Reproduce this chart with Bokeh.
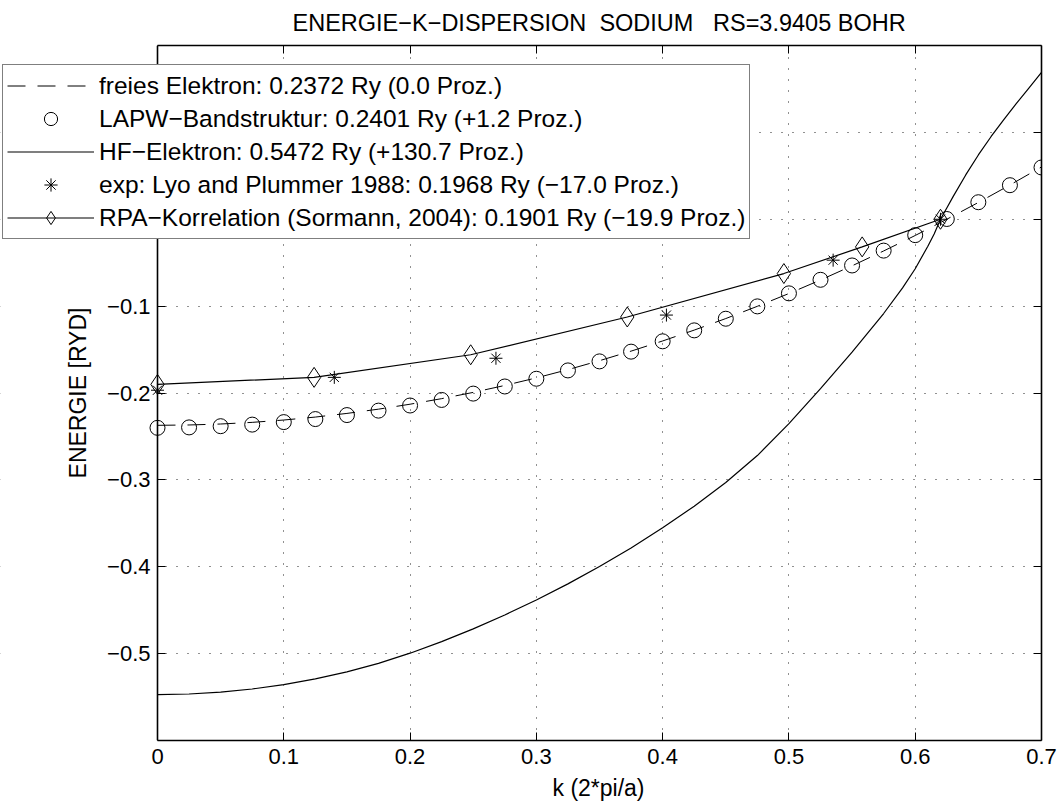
from bokeh.plotting import figure
from bokeh.models import (Range1d, FixedTicker, LinearAxis, Legend, LegendItem, ColumnDataSource,
                          BoxAnnotation, Label, Title)
from bokeh.embed import file_html
from bokeh.resources import INLINE
import math

# ---------------- data ----------------
k_free = [0.0, 0.025, 0.05, 0.075, 0.1, 0.125, 0.15, 0.175, 0.2, 0.225, 0.25, 0.275, 0.3, 0.325,
          0.35, 0.375, 0.4, 0.425, 0.45, 0.475, 0.5, 0.525, 0.55, 0.575, 0.6, 0.625, 0.65, 0.675, 0.7]
e_free = [-0.2372, -0.2368, -0.2357, -0.2338, -0.2311, -0.2277, -0.2235, -0.2186, -0.2129, -0.2065,
          -0.1993, -0.1913, -0.1826, -0.1731, -0.1628, -0.1518, -0.1401, -0.1276, -0.1143, -0.1002,
          -0.0855, -0.0699, -0.0536, -0.0365, -0.0187, 0.0000, 0.0193, 0.0394, 0.0602]

k_lapw = [0.0, 0.025, 0.05, 0.075, 0.1, 0.125, 0.15, 0.175, 0.2, 0.225, 0.25, 0.275, 0.3, 0.325,
          0.35, 0.375, 0.4, 0.425, 0.45, 0.475, 0.5, 0.525, 0.55, 0.575, 0.6, 0.625, 0.65, 0.675, 0.7]
e_lapw = [-0.2401, -0.2396, -0.2382, -0.2364, -0.2335, -0.2300, -0.2254, -0.2203, -0.2144, -0.2080,
          -0.2007, -0.1925, -0.1836, -0.1740, -0.1636, -0.1524, -0.1405, -0.1279, -0.1145, -0.1003,
          -0.0853, -0.0697, -0.0532, -0.0361, -0.0183, 0.0003, 0.0196, 0.0392, 0.0596]

k_hf = [0.0, 0.025, 0.05, 0.075, 0.1, 0.125, 0.15, 0.175, 0.2, 0.225, 0.25, 0.275, 0.3, 0.325,
        0.35, 0.375, 0.4, 0.425, 0.45, 0.475, 0.5, 0.525, 0.55, 0.575, 0.59, 0.6, 0.61, 0.615,
        0.62, 0.625, 0.63, 0.64, 0.65, 0.66, 0.67, 0.68, 0.69, 0.7]
e_hf = [-0.5472, -0.5465, -0.5443, -0.5407, -0.5356, -0.5290, -0.5210, -0.5112, -0.4995, -0.4862,
        -0.4715, -0.4555, -0.4383, -0.4197, -0.3998, -0.3783, -0.3552, -0.3303, -0.3030, -0.2720,
        -0.2352, -0.1950, -0.1530, -0.1085, -0.0790, -0.0570, -0.0310, -0.0170,
        0.0000, 0.0130, 0.0260, 0.0510, 0.0740, 0.0950, 0.1145, 0.1330, 0.1510, 0.1690]

k_exp = [0.0, 0.140, 0.268, 0.403, 0.535, 0.620]
e_exp = [-0.1968, -0.1820, -0.1600, -0.1103, -0.0471, 0.0000]

k_rpa = [0.0, 0.124, 0.248, 0.372, 0.496, 0.558, 0.620]
e_rpa = [-0.1901, -0.1820, -0.1560, -0.1125, -0.0625, -0.0318, 0.0000]

x_ticks = [0.0, 0.1, 0.2, 0.3, 0.4, 0.5, 0.6, 0.7]
x_tick_labels = ["0", "0.1", "0.2", "0.3", "0.4", "0.5", "0.6", "0.7"]
y_ticks = [-0.5, -0.4, -0.3, -0.2, -0.1, 0.0, 0.1]
y_tick_labels = ["\u22120.5", "\u22120.4", "\u22120.3", "\u22120.2", "\u22120.1", "", ""]

legend_labels = [
    "freies Elektron: 0.2372 Ry (0.0 Proz.)",
    "LAPW\u2212Bandstruktur: 0.2401 Ry (+1.2 Proz.)",
    "HF\u2212Elektron: 0.5472 Ry (+130.7 Proz.)",
    "exp: Lyo and Plummer 1988: 0.1968 Ry (\u221217.0 Proz.)",
    "RPA\u2212Korrelation (Sormann, 2004): 0.1901 Ry (\u221219.9 Proz.)",
]
title_text = "ENERGIE\u2212K\u2212DISPERSION \u00a0SODIUM \u00a0\u00a0RS=3.9405 BOHR"
x_label = "k (2*pi/a)"
y_label = "ENERGIE [RYD]"

FONT = "Liberation Sans"

# frame spans the whole left side so that the legend (which sits left of k=0) is not clipped
W, H = 1062, 806
FRAME_RIGHT = 1041          # canvas px of k = 0.7
AXIS_X = 157                # canvas px of k = 0
X_MIN, X_MAX = 0.0, 0.7
x_start = X_MIN - (X_MAX - X_MIN) * AXIS_X / (FRAME_RIGHT - AXIS_X)

p = figure(width=W, height=H,
           x_range=Range1d(x_start, X_MAX), y_range=Range1d(-0.6, 0.2),
           output_backend="svg", toolbar_location=None,
           min_border_left=0, min_border_right=W - FRAME_RIGHT,
           min_border_top=45, min_border_bottom=H - 741,
           title=title_text)

p.background_fill_color = "white"
p.border_fill_color = "white"
p.outline_line_color = None

p.title.align = "left"
p.title.offset = 292
p.title.vertical_align = "top"
p.title.standoff = 16
p.title.text_font = FONT
p.title.text_font_size = "23.5px"
p.title.text_font_style = "normal"
p.title.text_color = "black"

# grid
for g in (p.xgrid[0], p.ygrid[0]):
    g.grid_line_color = "#222222"
    g.grid_line_dash = "1 10"
    g.grid_line_width = 1
p.xgrid[0].ticker = FixedTicker(ticks=x_ticks)
p.ygrid[0].ticker = FixedTicker(ticks=y_ticks)

# white mask left of k = 0 (hides grid lines there)
p.add_layout(BoxAnnotation(right=X_MIN, fill_color="white", fill_alpha=1.0,
                           line_color=None, level="underlay"))


def style_axis(ax, ticks, labels, show_labels):
    ax.ticker = FixedTicker(ticks=ticks)
    ax.major_label_overrides = {t: l for t, l in zip(ticks, labels)}
    ax.major_tick_in = 8
    ax.major_tick_out = 0
    ax.minor_tick_line_color = None
    ax.axis_line_color = "black"
    ax.axis_line_width = 1.6
    ax.major_tick_line_color = "black"
    ax.major_tick_line_width = 1
    if show_labels:
        ax.major_label_text_font = FONT
        ax.major_label_text_font_size = "22px"
        ax.major_label_text_color = "black"
    else:
        ax.major_label_text_font_size = "0px"
        ax.major_label_standoff = 0


xb = p.xaxis[0]
style_axis(xb, x_ticks, x_tick_labels, True)
xb.bounds = (X_MIN, X_MAX)
xb.major_label_standoff = 8

yl = p.yaxis[0]
style_axis(yl, y_ticks, y_tick_labels, True)
yl.fixed_location = X_MIN
yl.bounds = (-0.6, 0.2)
yl.major_label_standoff = 7

xt = LinearAxis()
style_axis(xt, x_ticks, [""] * len(x_ticks), False)
xt.bounds = (X_MIN, X_MAX)
p.add_layout(xt, "above")
yr = LinearAxis()
style_axis(yr, y_ticks, [""] * len(y_ticks), False)
p.add_layout(yr, "right")

# axis titles
xlab = Title(text=x_label, align="left", offset=552, vertical_align="bottom", standoff=12,
             text_font=FONT, text_font_size="23px", text_font_style="normal", text_color="black")
p.add_layout(xlab, "below")
p.add_layout(Label(x=77, x_units="screen", y=-0.2, y_units="data", text=y_label,
                   angle=math.pi / 2, text_align="center", text_baseline="middle",
                   text_font=FONT, text_font_size="23px", text_color="black"))

# ---------------- glyphs ----------------
src_free = ColumnDataSource(dict(k=k_free, e=e_free))
src_lapw = ColumnDataSource(dict(k=k_lapw, e=e_lapw))
src_hf = ColumnDataSource(dict(k=k_hf, e=e_hf))
src_exp = ColumnDataSource(dict(k=k_exp, e=e_exp))
src_rpa = ColumnDataSource(dict(k=k_rpa, e=e_rpa))

r_free = p.line("k", "e", source=src_free, line_color="black", line_width=1, line_dash="18 12")
r_lapw = p.scatter("k", "e", source=src_lapw, marker="circle", size=15,
                   fill_color=None, line_color="black", line_width=1)
r_hf = p.line("k", "e", source=src_hf, line_color="black", line_width=1.2)
r_exp = p.scatter("k", "e", source=src_exp, marker="asterisk", size=13,
                  line_color="black", line_width=1)
r_rpa_l = p.line("k", "e", source=src_rpa, line_color="black", line_width=1.2)
r_rpa_m = p.scatter("k", "e", source=src_rpa, marker="diamond", size=20,
                    fill_color=None, line_color="black", line_width=1)

items = [
    LegendItem(label=legend_labels[0], renderers=[r_free]),
    LegendItem(label=legend_labels[1], renderers=[r_lapw]),
    LegendItem(label=legend_labels[2], renderers=[r_hf]),
    LegendItem(label=legend_labels[3], renderers=[r_exp]),
    LegendItem(label=legend_labels[4], renderers=[r_rpa_l, r_rpa_m]),
]
legend = Legend(items=items, location=(2, 501))
legend.padding = 4
legend.margin = 0
legend.spacing = 0
legend.glyph_width = 87
legend.glyph_height = 33
legend.label_height = 33
legend.label_standoff = 5
legend.label_text_font = FONT
legend.label_text_font_size = "24.5px"
legend.label_text_color = "black"
legend.border_line_color = "black"
legend.border_line_width = 1
legend.background_fill_color = "white"
legend.background_fill_alpha = 1.0
p.add_layout(legend, "center")

open("out.html", "w").write(file_html(p, INLINE))
